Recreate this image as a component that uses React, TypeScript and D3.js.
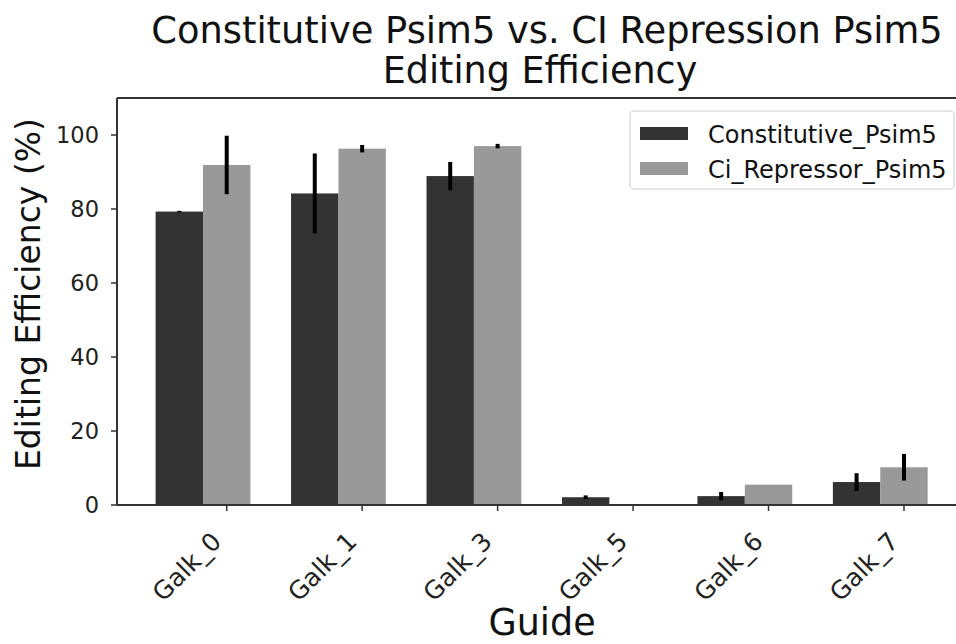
import React from "react";
import * as d3 from "d3";

// Guides and measured editing efficiency (%) with error (+/-)
const guides = ["Galk_0", "Galk_1", "Galk_3", "Galk_5", "Galk_6", "Galk_7"];
const constitutive = [79.3, 84.2, 88.9, 2.1, 2.4, 6.2];
const constitutiveErr = [0.2, 10.8, 3.8, 0.5, 1.1, 2.4];
const repressor = [91.9, 96.3, 97.0, 0, 5.5, 10.2];
const repressorErr = [7.9, 1.0, 0.6, 0, 0, 3.6];
const yTicks = [0, 20, 40, 60, 80, 100];
const seriesNames = ["Constitutive_Psim5", "Ci_Repressor_Psim5"];

const W = 956;
const H = 644;
const FONT = "'DejaVu Sans', sans-serif";
const DARK = "#333333";
const LIGHT = "#999999";
const BAR_W = 0.35;

export default function App() {
  const left = 117;
  const right = 969;
  const top = 98;
  const bottom = 505;

  const x = d3.scaleLinear().domain([-0.46, 5.83]).range([left, right]);
  const y = d3.scaleLinear().domain([0, 110]).range([bottom, top]);
  const bw = x(BAR_W) - x(0);

  const series = [
    { name: seriesNames[0], values: constitutive, err: constitutiveErr, offset: 0, color: DARK },
    { name: seriesNames[1], values: repressor, err: repressorErr, offset: BAR_W, color: LIGHT },
  ];

  return (
    <svg
      width={W}
      height={H}
      style={{ position: "absolute", left: 0, top: 0, background: "#fff" }}
      fontFamily={FONT}
    >
      {/* title */}
      <text x={547} y={43} textAnchor="middle" fontSize={36.8} fill="#111">
        Constitutive Psim5 vs. CI Repression Psim5
      </text>
      <text x={540} y={83} textAnchor="middle" fontSize={36.5} fill="#111">
        Editing Efficiency
      </text>

      {/* bars */}
      {series.map((s) =>
        s.values.map((v, i) => (
          <rect
            key={s.name + i}
            x={x(i + s.offset) - bw / 2}
            y={y(v)}
            width={bw}
            height={y(0) - y(v)}
            fill={s.color}
          />
        ))
      )}
      {/* error bars */}
      {series.map((s) =>
        s.values.map((v, i) =>
          s.err[i] > 0 ? (
            <line
              key={s.name + "e" + i}
              x1={x(i + s.offset)}
              x2={x(i + s.offset)}
              y1={y(v - s.err[i])}
              y2={y(v + s.err[i])}
              stroke="#000"
              strokeWidth={4}
            />
          ) : null
        )
      )}

      {/* spines */}
      <line x1={left} x2={left} y1={top} y2={bottom} stroke="#333" strokeWidth={2} />
      <line x1={left} x2={W} y1={bottom} y2={bottom} stroke="#333" strokeWidth={2} />
      <line x1={left} x2={W} y1={top} y2={top} stroke="#333" strokeWidth={2} />

      {/* y axis */}
      {yTicks.map((t) => (
        <g key={t}>
          <line x1={left - 6} x2={left} y1={y(t)} y2={y(t)} stroke="#333" strokeWidth={1.5} />
          <text x={left - 18} y={y(t)} dy="0.36em" textAnchor="end" fontSize={22.5} fill="#222">
            {t}
          </text>
        </g>
      ))}
      <text
        transform={`translate(40, ${294}) rotate(-90)`}
        textAnchor="middle"
        fontSize={33}
        fill="#111"
      >
        Editing Efficiency (%)
      </text>

      {/* x axis */}
      {guides.map((g, i) => {
        const tx = x(i + BAR_W);
        return (
          <g key={g}>
            <line x1={tx} x2={tx} y1={bottom} y2={bottom + 6} stroke="#333" strokeWidth={1.5} />
            <text
              transform={`translate(${tx - 4}, ${bottom + 38}) rotate(-45)`}
              textAnchor="end"
              fontSize={25}
              fill="#222"
            >
              {g}
            </text>
          </g>
        );
      })}
      <text x={542} y={635} textAnchor="middle" fontSize={36.5} fill="#111">
        Guide
      </text>

      {/* legend */}
      <rect x={630} y={111} width={324} height={78} rx={4} fill="#fff" stroke="#ddd" strokeWidth={1.5} />
      {series.map((s, k) => (
        <g key={s.name + "leg"}>
          <rect x={640} y={127 + k * 35} width={48} height={13} fill={s.color} />
          <text x={708} y={134 + k * 35} dy="0.36em" fontSize={24} fill="#111">
            {s.name}
          </text>
        </g>
      ))}
    </svg>
  );
}
